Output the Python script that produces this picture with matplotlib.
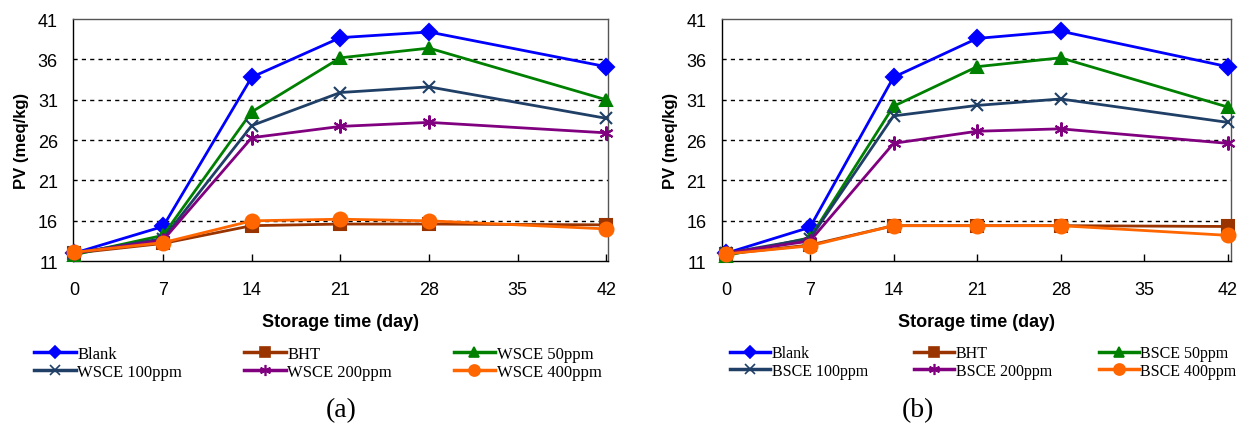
import matplotlib
matplotlib.use("Agg")
import matplotlib.pyplot as plt
from matplotlib.lines import Line2D

# ── data ─────────────────────────────────────────────────────────────────────
days = [0, 7, 14, 21, 28, 42]

labels_a = ["Blank", "BHT", "WSCE 50ppm", "WSCE 100ppm", "WSCE 200ppm", "WSCE 400ppm"]
blank_a = [12.0, 15.3, 33.8, 38.7, 39.4, 35.1]
bht_a = [12.0, 13.2, 15.4, 15.6, 15.6, 15.5]
c50_a = [11.8, 14.2, 29.5, 36.2, 37.4, 31.0]
c100_a = [12.0, 13.8, 27.8, 31.9, 32.6, 28.7]
c200_a = [12.0, 13.6, 26.3, 27.7, 28.2, 26.9]
c400_a = [12.1, 13.3, 16.0, 16.2, 16.0, 15.0]

labels_b = ["Blank", "BHT", "BSCE 50ppm", "BSCE 100ppm", "BSCE 200ppm", "BSCE 400ppm"]
blank_b = [12.0, 15.2, 33.8, 38.6, 39.5, 35.1]
bht_b = [11.9, 13.0, 15.4, 15.4, 15.4, 15.3]
c50_b = [11.7, 13.9, 30.2, 35.1, 36.2, 30.1]
c100_b = [12.0, 13.8, 29.0, 30.3, 31.1, 28.2]
c200_b = [12.0, 13.5, 25.6, 27.1, 27.4, 25.6]
c400_b = [11.9, 12.9, 15.4, 15.4, 15.4, 14.2]

yticks = [11, 16, 21, 26, 31, 36, 41]
xticks = [0, 7, 14, 21, 28, 35, 42]

# ── styles ───────────────────────────────────────────────────────────────────
COLORS = ["#0000FF", "#993300", "#008000", "#1F3F66", "#800080", "#FF6600"]
MARKERS = ["D", "s", "^", "x", (6, 2, 0), "o"]
MSIZES = [8, 9, 9, 9, 10, 10]

SANS = ["Liberation Sans Narrow", "Liberation Sans", "DejaVu Sans"]
SERIF = ["Liberation Serif", "DejaVu Serif"]

fig = plt.figure(figsize=(12.4, 4.27), dpi=100)

# rect, labels, series, tag, tag x, legend x, xlim, legend column spacing, legend size
panels = [
    ([0.059, 0.386, 0.431, 0.567], labels_a,
     [blank_a, bht_a, c50_a, c100_a, c200_a, c400_a], "(a)", 0.275, 0.018, (-0.1, 42.1), 3.7, 12),
    ([0.582, 0.386, 0.411, 0.567], labels_b,
     [blank_b, bht_b, c50_b, c100_b, c200_b, c400_b], "(b)", 0.740, 0.580, (-0.4, 42.3), 2.9, 11.5),
]

for rect, labels, series, tag, tag_x, leg_x, xlim, colsp, lsize in panels:
    ax = fig.add_axes(rect)
    handles = []
    for vals, lab, col, mk, ms in zip(series, labels, COLORS, MARKERS, MSIZES):
        ax.plot(days, vals, color=col, lw=2.0, marker=mk, ms=ms,
                mew=1.5, zorder=3, clip_on=False)
        handles.append(Line2D([], [], color=col, lw=2.5, marker=mk,
                              ms=ms * 0.8, mew=1.2, label=lab))

    ax.set_xlim(*xlim)
    ax.set_ylim(11, 41)
    ax.set_xticks(xticks)
    ax.set_yticks(yticks)
    ax.set_xticklabels([str(t) for t in xticks], family=SANS, fontsize=13)
    ax.set_yticklabels([str(t) for t in yticks], family=SANS, fontsize=13)
    ax.tick_params(axis="x", direction="in", length=5, width=1, pad=14)
    ax.tick_params(axis="y", length=0, pad=11)
    for t in yticks[1:-1]:
        ax.axhline(t, color="black", lw=1.0, ls=(0, (3, 3)), zorder=1)
    for s in ax.spines.values():
        s.set_linewidth(1.0)
    ax.spines["top"].set_color("#555555")
    ax.spines["right"].set_color("#555555")

    ax.set_ylabel("PV (meq/kg)", family=SANS, fontsize=12, fontweight="bold", labelpad=6)
    ax.set_xlabel("Storage time (day)", family=SANS, fontsize=13, fontweight="bold", labelpad=11)

    # row-wise order: Blank, BHT, 50 / 100, 200, 400
    order = [0, 3, 1, 4, 2, 5]
    fig.legend(handles=[handles[i] for i in order], ncol=3,
               loc="upper left", bbox_to_anchor=(leg_x, 0.215),
               frameon=False, prop={"family": SERIF, "size": lsize},
               handlelength=2.5, handletextpad=0.1, columnspacing=colsp,
               labelspacing=0.1, borderpad=0.2)

    fig.text(tag_x, 0.038, tag, family=SERIF, fontsize=20, ha="center", va="center")

fig.savefig("out.png", dpi=100)
